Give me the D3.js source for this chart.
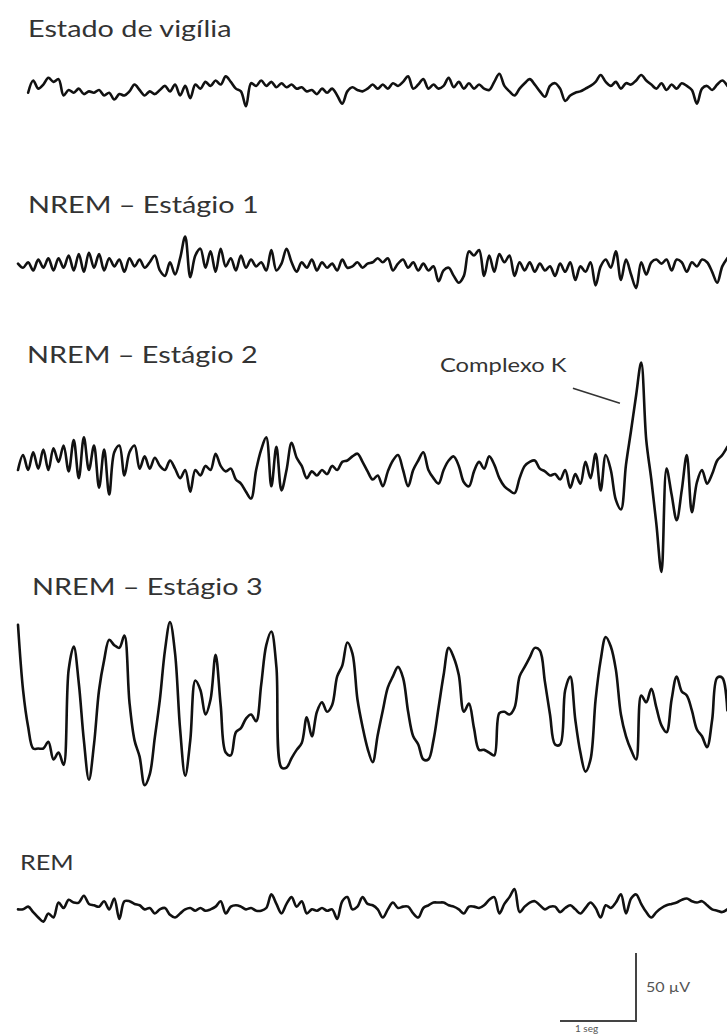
<!DOCTYPE html>
<html>
<head>
<meta charset="utf-8">
<script src="https://cdn.jsdelivr.net/npm/d3@7"></script>
<style>
  html, body { margin: 0; padding: 0; background: #fff; }
  svg { display: block; }
  .title { font-family: Lato, "Noto Sans", sans-serif; fill: #333; }
  .small { font-family: Lato, "Noto Sans", sans-serif; fill: #555; }
</style>
</head>
<body>
<div id="chart"></div>
<script>
var W = 727, H = 1034;

// EEG traces, µV, sampled at 15 Hz, starting at t = 0 s
var fs = 15;

var stages = ["Estado de vigília", "NREM – Estágio 1", "NREM – Estágio 2", "NREM – Estágio 3", "REM"];

var vigilia = [null, null, -2, 7, 1, 4, 9, 6, 8, -4, 0, -2, 1, -3, -1, -2, 0, -4, -2, -7,
  -3, -4, -1, 4, 0, -4, -1, -3, 0, 3, -1, 4, -4, 3, -6, 4, 1, 6, 3, 7,
  4, 10, 6, 1, -1, -12, 5, 3, 7, 3, 6, 2, 5, 2, 4, 1, 2, -1, 0, -3,
  1, -2, 1, -4, -10, -1, 2, 0, -1, 1, 4, 1, 4, 1, 5, 3, 6, 10, 1, 4,
  8, 1, 4, 1, 3, 9, 2, 6, 1, 5, 1, 4, 1, 0, 6, 12, 3, -1, -4, 1,
  5, 8, 4, -1, -5, 3, 5, 1, -8, -4, -2, -1, 1, 3, 6, 11, 6, 3, 6, 1,
  5, 4, 7, 11, 7, 4, 1, 5, 0, 4, 1, 5, 3, 0, -10, 1, 3, 0, 4, 7, 3];

var nrem1 = [1, -2, 2, -4, 4, -2, 5, -4, 5, -2, 7, -4, 8, -5, 9, -2, 8, -4, 5, -1,
  4, -5, 5, -1, 4, -2, 2, 7, -4, -8, 2, -7, 5, 21, -9, 7, 12, -2, 10, -5,
  12, -1, 5, -4, 7, -2, 4, -1, 2, -4, 11, -4, 1, 12, 2, -5, 2, -2, 4, -4,
  2, -2, 1, -4, 4, -2, -1, 2, -2, 1, 2, 5, 2, 5, -4, 1, 4, -2, 2, -4,
  1, -4, -1, -12, -4, -2, -8, -13, -8, 10, 7, 11, -8, 7, -5, 8, 2, 7, -8, 2,
  -4, 2, -5, 1, -4, -1, -8, 1, -5, 2, -11, -1, -5, 2, -15, -1, 4, -2, 10, -11,
  4, -7, -17, 2, -7, 2, 4, 1, 4, -4, 4, 2, -5, 2, -1, 4, 2, -5, -13, -1, 5];

var nrem2 = [0, 11, 0, 13, 1, 15, 0, 16, 6, 18, -1, 22, -6, 24, 0, 18, -13, 15, -18, 13,
  18, -4, 13, 18, 1, 10, 1, 9, 3, 0, 7, 1, -6, 0, -16, 0, -4, 3, 0, 12,
  3, -1, 1, -7, -10, -16, -21, 0, 15, 24, -12, 17, -15, 0, 20, 9, 3, -6, -1, -4,
  0, -3, 3, 0, 6, 7, 10, 12, 6, -1, -7, -4, -12, -1, 7, 11, 0, -12, 0, 7,
  13, 0, -6, -10, 0, 7, 10, 3, -9, -12, -1, 6, 1, 10, 4, -6, -12, -15, -17, -6,
  3, 6, 7, 1, -1, -4, -3, -7, 0, -13, -3, -10, 6, -6, 12, -15, 11, 0, -22, -29,
  4, 29, 55, 79, 22, -7, -40, -75, 1, -18, -37, -15, 11, -31, -9, 0, -10, -3, 7, 11, 17];

var nrem3 = [59, 11, -16, -32, -32, -32, -27, -40, -35, -44, 26, 43, 16, -26, -55, -29, 11, 33, 48, 44,
  42, 51, 2, -26, -38, -59, -51, -24, 4, 40, 61, 38, -18, -52, -26, 18, 11, -7, 4, 37,
  0, -35, -37, -20, -17, -10, -7, -12, 15, 44, 54, 28, -46, -46, -39, -33, -28, -9, -23, -5,
  2, -5, 0, 21, 29, 46, 38, 4, -16, -32, -42, -22, -4, 13, 21, 28, 20, -5, -23, -29,
  -40, -40, -26, -2, 22, 42, 35, 22, -5, 1, -17, -33, -33, -35, -37, -6, -5, -7, -2, 21,
  28, 35, 42, 40, 17, -7, -29, -29, 11, 21, -11, -35, -49, -40, 4, 33, 50, 43, 26, -7,
  -23, -33, -40, 7, 2, 12, -2, -15, -20, 4, 21, 10, 7, -4, -18, -23, -31, -11, 20, 20, -4];

var rem = [-1, -1, 1, -3, -7, -10, -4, -7, 4, 0, 6, 4, 4, 9, 3, 2, 1, 5, -1, 7,
  -8, 5, 5, 3, 2, -1, 0, -4, -1, 0, -5, -7, -4, -1, 0, -2, 0, -2, -1, 1,
  5, -4, 1, 2, 1, -1, 0, -2, -2, 0, 10, 3, -4, 3, 8, 1, 5, -4, -1, -2,
  0, -2, -1, -8, 5, 8, -1, 1, 8, 3, 2, -1, -7, -1, 4, 0, 1, 1, -4, -7,
  0, 2, 4, 4, 4, 2, 1, -1, -4, 1, 1, 0, 2, 6, 8, -4, 3, 8, 14, -3,
  1, 4, 5, 2, -1, 1, 1, -3, 0, 2, -1, -4, 0, 4, 0, -7, 2, 0, 4, 10,
  -4, 7, 10, 3, -3, -7, -3, 0, 2, 3, 4, 6, 7, 5, 4, 5, 2, -1, -2, -3, -1];

var traces = [vigilia, nrem1, nrem2, nrem3, rem];

// K complex annotation (stage index, time s, µV at the end of the pointer)
var kLabel = "Complexo K";
var kStage = 2, kTime = 7.92, kValue = 49;

// scale bar
var barSeconds = 1, barMicroV = 50;
var barUnits = ["1 seg", "50 µV"];

// layout
var originX = 18;
var pxPerSecond = 76;
var baselines = [90, 265, 470, 705, 908];
var titleX = [28, 28, 27, 32, 20];
var titleY = [37, 213, 363, 595, 870];
var titleSize = [24, 24, 24, 24, 21];

var x = d3.scaleLinear()
  .domain([0, 1])
  .range([originX, originX + pxPerSecond]);

var y = d3.scaleLinear()
  .domain([-50, 50])
  .range([68, -68]);

var svg = d3.select("#chart").append("svg")
    .attr("width", W)
    .attr("height", H);

var trace = d3.line()
  .defined(function(d) { return d != null; })
  .x(function(d, i) { return x(i / fs); })
  .y(function(d) { return y(d); })
  .curve(d3.curveCatmullRom.alpha(0.5));

for (var i = 0; i < traces.length; i++) {
  var row = svg.append("g")
      .attr("transform", "translate(0," + baselines[i] + ")");

  row.append("path")
    .datum(traces[i])
    .attr("d", trace)
    .attr("fill", "none")
    .attr("stroke", "#111")
    .attr("stroke-width", 2.6)
    .attr("stroke-linejoin", "round")
    .attr("stroke-linecap", "round");

  svg.append("text")
    .attr("class", "title")
    .attr("transform", "translate(" + titleX[i] + "," + titleY[i] + ") scale(1.2,1)")
    .style("font-size", titleSize[i] + "px")
    .text(stages[i]);
}

// Complexo K label and pointer
var kx = x(kTime), ky = baselines[kStage] + y(kValue);
svg.append("line")
  .attr("x1", kx - 47)
  .attr("y1", ky - 15)
  .attr("x2", kx)
  .attr("y2", ky)
  .attr("stroke", "#333")
  .attr("stroke-width", 1.6);

svg.append("text")
  .attr("class", "title")
  .attr("transform", "translate(440,372) scale(1.25,1)")
  .style("font-size", "19px")
  .text(kLabel);

// calibration bar
var bx = 636, by = 1021;
var bw = x(barSeconds) - x(0);
var bh = y(0) - y(barMicroV);

svg.append("path")
  .attr("d", "M" + (bx - bw) + "," + by + "H" + bx + "V" + (by - bh))
  .attr("fill", "none")
  .attr("stroke", "#444")
  .attr("stroke-width", 2);

svg.append("text")
  .attr("class", "small")
  .attr("transform", "translate(" + (bx + 10) + "," + (by - bh / 2 + 5) + ") scale(1.15,1)")
  .style("font-size", "14px")
  .text(barUnits[1]);

svg.append("text")
  .attr("class", "small")
  .attr("x", bx - bw + 15)
  .attr("y", by + 11)
  .style("font-size", "10px")
  .text(barUnits[0]);
</script>
</body>
</html>
